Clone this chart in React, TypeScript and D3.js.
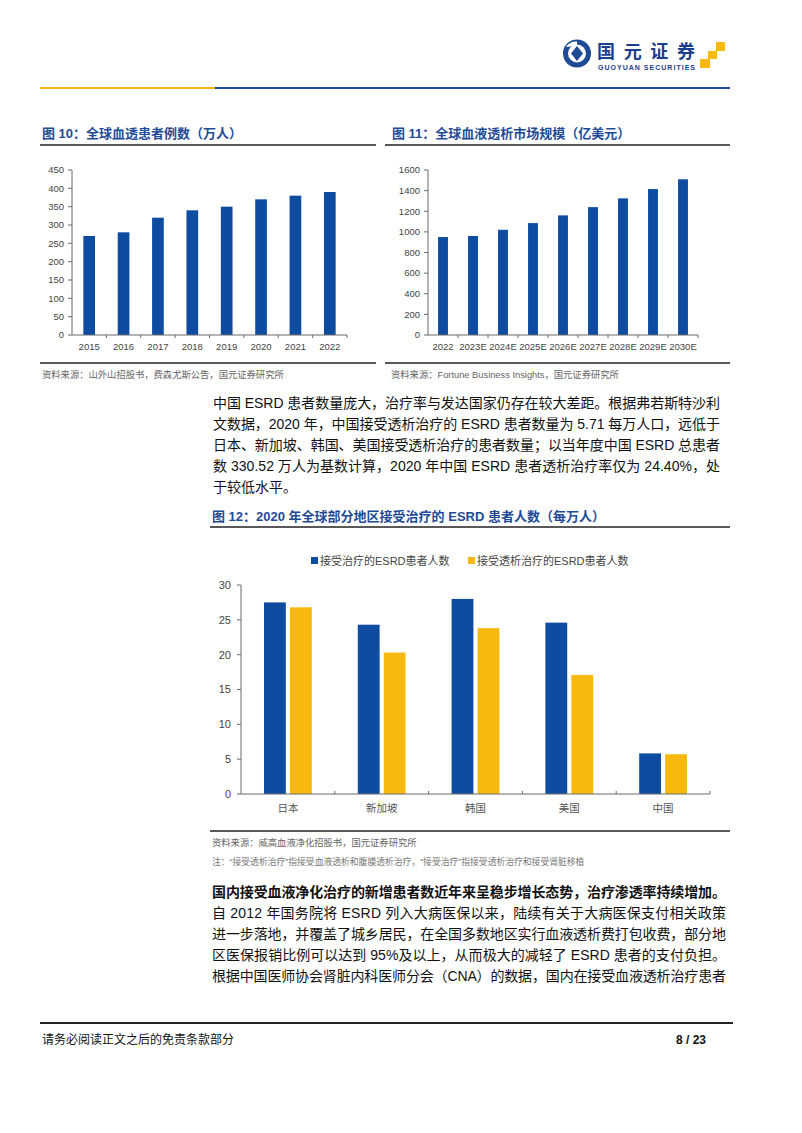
import React from 'react';
import * as d3 from 'd3';

// ---------- data ----------
const years10 = ['2015', '2016', '2017', '2018', '2019', '2020', '2021', '2022'];
const patients10 = [270, 280, 320, 340, 350, 370, 380, 390];
const ticks10 = [0, 50, 100, 150, 200, 250, 300, 350, 400, 450];

const years11 = ['2022', '2023E', '2024E', '2025E', '2026E', '2027E', '2028E', '2029E', '2030E'];
const market11 = [950, 960, 1020, 1085, 1160, 1240, 1325, 1415, 1510];
const ticks11 = [0, 200, 400, 600, 800, 1000, 1200, 1400, 1600];

const regions12 = ['日本', '新加坡', '韩国', '美国', '中国'];
const series12 = ['接受治疗的ESRD患者人数', '接受透析治疗的ESRD患者人数'];
const treated12 = [27.5, 24.3, 28.0, 24.6, 5.83];
const dialysis12 = [26.8, 20.3, 23.8, 17.1, 5.71];
const ticks12 = [0, 5, 10, 15, 20, 25, 30];

const para1 = [
  '中国 ESRD 患者数量庞大，治疗率与发达国家仍存在较大差距。根据弗若斯特沙利',
  '文数据，2020 年，中国接受透析治疗的 ESRD 患者数量为 5.71 每万人口，远低于',
  '日本、新加坡、韩国、美国接受透析治疗的患者数量；以当年度中国 ESRD 总患者',
  '数 330.52 万人为基数计算，2020 年中国 ESRD 患者透析治疗率仅为 24.40%，处',
  '于较低水平。',
];
const para2Bold = '国内接受血液净化治疗的新增患者数近年来呈稳步增长态势，治疗渗透率持续增加。';
const para2 = [
  '自 2012 年国务院将 ESRD 列入大病医保以来，陆续有关于大病医保支付相关政策',
  '进一步落地，并覆盖了城乡居民，在全国多数地区实行血液透析费打包收费，部分地',
  '区医保报销比例可以达到 95%及以上，从而极大的减轻了 ESRD 患者的支付负担。',
  '根据中国医师协会肾脏内科医师分会（CNA）的数据，国内在接受血液透析治疗患者',
];

const FONT = '"Liberation Sans", Arial, "Noto Sans CJK SC", sans-serif';
const BLUE = '#0E4CA1';
const GOLD = '#F8B90E';
const TITLE = '#1F4A96';
const AXIS = '#6b6b6b';
const LABEL = '#444';
const SRC = '#666';

function SimpleBars({ cats, vals, ticks, x0, x1, yTop, yBot, max, inner }: any) {
  const x = d3.scaleBand<string>().domain(cats).range([x0, x1]).paddingInner(inner).paddingOuter(inner / 2);
  const y = d3.scaleLinear().domain([0, max]).range([yBot, yTop]);
  const step = x.step();
  return (
    <g fontFamily={FONT}>
      {cats.map((c: string, i: number) => (
        <rect key={c} x={x(c)} y={y(vals[i])} width={x.bandwidth()} height={yBot - y(vals[i])} fill={BLUE} />
      ))}
      <line x1={x0} x2={x0} y1={y(max)} y2={yBot} stroke={AXIS} strokeWidth={1} />
      <line x1={x0} x2={x1} y1={yBot} y2={yBot} stroke={AXIS} strokeWidth={1} />
      {ticks.map((t: number) => (
        <g key={t}>
          <line x1={x0 - 4} x2={x0} y1={y(t)} y2={y(t)} stroke={AXIS} />
          <text x={x0 - 8} y={y(t)} dy="0.35em" textAnchor="end" fontSize={9.5} fill={LABEL}>{t}</text>
        </g>
      ))}
      {cats.map((c: string, i: number) => (
        <g key={c}>
          <line x1={x0 + step * (i + 1)} x2={x0 + step * (i + 1)} y1={yBot} y2={yBot + 3} stroke={AXIS} />
          <text x={(x(c) as number) + x.bandwidth() / 2} y={yBot + 12} dy="0.35em" textAnchor="middle" fontSize={9.5} fill={LABEL}>{c}</text>
        </g>
      ))}
    </g>
  );
}

function GroupedBars() {
  const x0 = 241, x1 = 710, yTop = 585, yBot = 794;
  const xg = d3.scaleBand<string>().domain(regions12).range([x0, x1]).paddingInner(0.49).paddingOuter(0.245);
  const xs = d3.scaleBand<string>().domain(series12).range([0, xg.bandwidth()]).paddingInner(0.16);
  const y = d3.scaleLinear().domain([0, 30]).range([yBot, yTop]);
  const colors = [BLUE, GOLD];
  const data = [treated12, dialysis12];
  const step = xg.step();
  return (
    <g fontFamily={FONT}>
      {series12.map((s, k) => {
        const lx = k === 0 ? 311 : 468;
        return (
          <g key={s}>
            <rect x={lx} y={557} width={7} height={7} fill={colors[k]} />
            <text x={lx + 9} y={561} dy="0.35em" fontSize={11} fill="#444">{s}</text>
          </g>
        );
      })}
      {regions12.map((r, i) =>
        series12.map((s, k) => (
          <rect key={r + s} x={(xg(r) as number) + (xs(s) as number)} y={y(data[k][i])} width={xs.bandwidth()}
            height={yBot - y(data[k][i])} fill={colors[k]} />
        ))
      )}
      <line x1={x0} x2={x0} y1={yTop} y2={yBot} stroke={AXIS} />
      <line x1={x0} x2={x1} y1={yBot} y2={yBot} stroke={AXIS} />
      {ticks12.map((t) => (
        <g key={t}>
          <line x1={x0 - 4} x2={x0} y1={y(t)} y2={y(t)} stroke={AXIS} />
          <text x={x0 - 10} y={y(t)} dy="0.35em" textAnchor="end" fontSize={11} fill={LABEL}>{t}</text>
        </g>
      ))}
      {regions12.map((r, i) => (
        <g key={r}>
          <line x1={x0 + step * (i + 1)} x2={x0 + step * (i + 1)} y1={yBot} y2={yBot - 3} stroke={AXIS} />
          <text x={(xg(r) as number) + xg.bandwidth() / 2} y={808} dy="0.35em" textAnchor="middle" fontSize={10.5} fill="#555">{r}</text>
        </g>
      ))}
    </g>
  );
}

function Para({ lines, x, y0, lh, width, size, weight, lastFull }: any) {
  return (
    <g fontFamily={FONT} fontSize={size} fontWeight={weight || 400} fill="#111">
      {lines.map((l: string, i: number) => {
        const justify = lastFull || i < lines.length - 1;
        return (
          <text key={i} x={x} y={y0 + i * lh} {...(justify ? { textLength: width, lengthAdjust: 'spacing' } : {})}>{l}</text>
        );
      })}
    </g>
  );
}

export default function App() {
  return (
    <svg width={802} height={1133} style={{ position: 'absolute', left: 0, top: 0, background: '#fff' }}>
      <rect width={802} height={1133} fill="#fff" />
      {/* header logo */}
      <g>
        <circle cx={577} cy={53.5} r={14} fill={TITLE} />
        <circle cx={577} cy={53.5} r={9} fill="#fff" />
        <path d="M577,46 L583,53.5 L577,61 L571,53.5 Z" fill={TITLE} />
        <path d="M566,47 A12,12 0 0,1 577,41.5 L577,46 Z" fill="#fff" />
        <text x={597} y={58} fontFamily='"Noto Sans CJK SC", sans-serif' fontWeight={700} fontSize={18} fill="#1B3E8E"
          textLength={98} lengthAdjust="spacing">国元证券</text>
        <text x={598} y={70} fontFamily={FONT} fontWeight={700} fontSize={7} fill="#1B3E8E" textLength={97}
          lengthAdjust="spacing">GUOYUAN SECURITIES</text>
        <rect x={716} y={42} width={9} height={9} fill={GOLD} />
        <rect x={708} y={51} width={9} height={8} fill={GOLD} />
        <rect x={700} y={59} width={10} height={9} fill={GOLD} />
      </g>
      <line x1={40} x2={215} y1={88} y2={88} stroke={GOLD} strokeWidth={2} />
      <line x1={215} x2={730} y1={88} y2={88} stroke={TITLE} strokeWidth={2} />

      {/* chart 10 */}
      <text x={42} y={138} fontFamily={FONT} fontWeight={700} fontSize={13} fill={TITLE}>图 10：全球血透患者例数（万人）</text>
      <line x1={40} x2={376} y1={145} y2={145} stroke="#222" strokeWidth={1.5} />
      <SimpleBars cats={years10} vals={patients10} ticks={ticks10} x0={72} x1={347} yTop={170} yBot={335} max={450} inner={0.66} />
      <line x1={40} x2={376} y1={363} y2={363} stroke="#222" strokeWidth={1.5} />
      <text x={42} y={378} fontFamily={FONT} fontSize={9.3} fill={SRC}>资料来源：山外山招股书，费森尤斯公告，国元证券研究所</text>

      {/* chart 11 */}
      <text x={392} y={138} fontFamily={FONT} fontWeight={700} fontSize={13} fill={TITLE}>图 11：全球血液透析市场规模（亿美元）</text>
      <line x1={385} x2={730} y1={145} y2={145} stroke="#222" strokeWidth={1.5} />
      <SimpleBars cats={years11} vals={market11} ticks={ticks11} x0={428} x1={698} yTop={170} yBot={335} max={1600} inner={0.67} />
      <line x1={385} x2={730} y1={363} y2={363} stroke="#222" strokeWidth={1.5} />
      <text x={391} y={378} fontFamily={FONT} fontSize={9.3} fill={SRC}>资料来源：Fortune Business Insights，国元证券研究所</text>

      {/* paragraph 1 */}
      <Para lines={para1} x={213} y0={408} lh={21} width={507} size={14} />

      {/* chart 12 */}
      <text x={212} y={521} fontFamily={FONT} fontWeight={700} fontSize={13} fill={TITLE}>图 12：2020 年全球部分地区接受治疗的 ESRD 患者人数（每万人）</text>
      <line x1={210} x2={730} y1={527} y2={527} stroke="#222" strokeWidth={1.5} />
      <GroupedBars />
      <line x1={210} x2={730} y1={831} y2={831} stroke="#222" strokeWidth={1.5} />
      <text x={212} y={846} fontFamily={FONT} fontSize={9.3} fill={SRC}>资料来源：威高血液净化招股书，国元证券研究所</text>
      <text x={212} y={865} fontFamily={FONT} fontSize={8.8} fill="#777">注：“接受透析治疗”指接受血液透析和腹膜透析治疗，“接受治疗”指接受透析治疗和接受肾脏移植</text>

      {/* paragraph 2 */}
      <Para lines={[para2Bold]} x={212} y0={897} lh={21} width={514} size={14} weight={700} lastFull />
      <Para lines={para2} x={212} y0={918} lh={21} width={514} size={14} lastFull />

      {/* footer */}
      <line x1={40} x2={733} y1={1023} y2={1023} stroke="#222" strokeWidth={2} />
      <text x={42} y={1044} fontFamily={FONT} fontSize={12} fill="#111">请务必阅读正文之后的免责条款部分</text>
      <text x={706} y={1044} textAnchor="end" fontFamily={FONT} fontSize={12} fontWeight={700} fill="#111">8 / 23</text>
    </svg>
  );
}
